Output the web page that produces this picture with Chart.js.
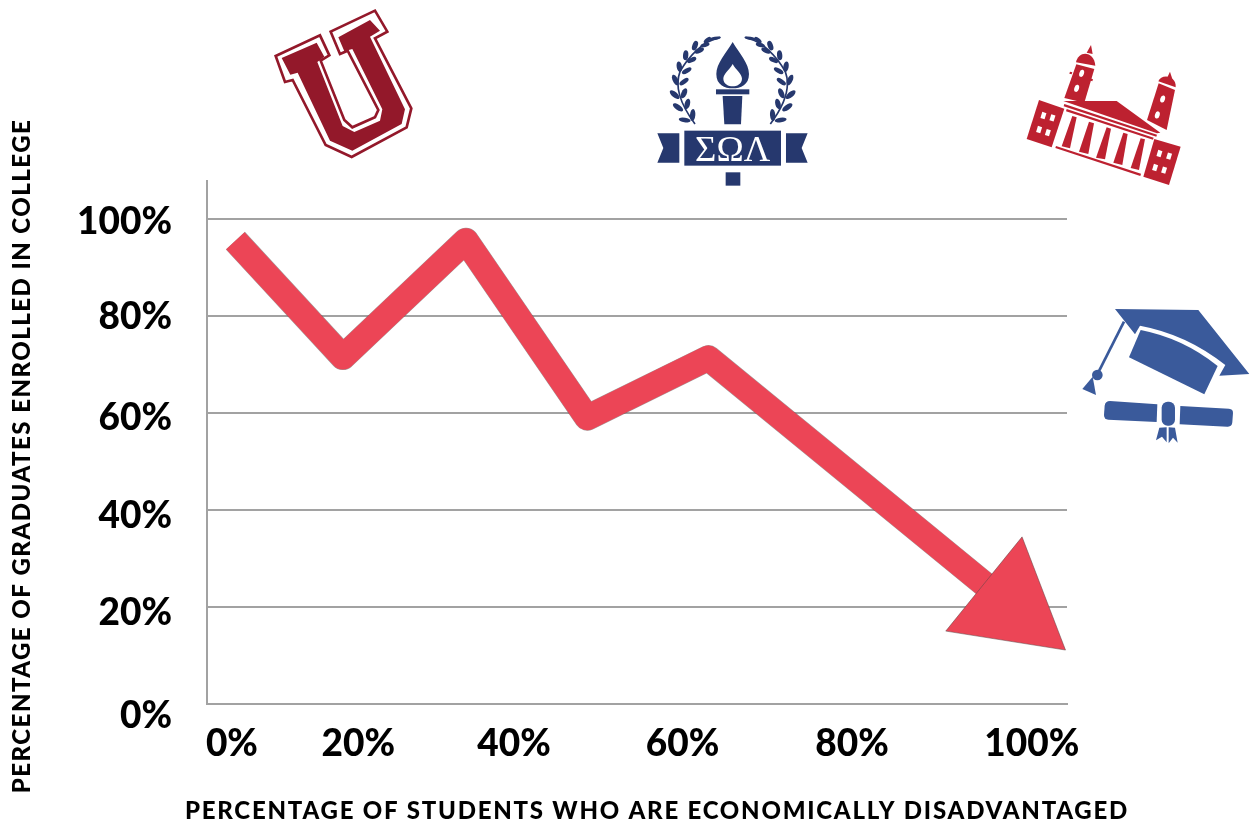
<!DOCTYPE html>
<html>
<head>
<meta charset="utf-8">
<title>Graduates enrolled in college</title>
<script src="https://cdn.jsdelivr.net/npm/chart.js@4/dist/chart.umd.min.js"></script>
<style>
  html, body { margin: 0; background: #ffffff; }
  #wrap { position: relative; width: 1257px; height: 823px; overflow: hidden; }
  #chart { position: absolute; left: 0; top: 0; }
  #icons { position: absolute; left: 0; top: 0; pointer-events: none; }
</style>
</head>
<body>
<div id="wrap">
  <canvas id="chart" width="1257" height="823"></canvas>

  <!-- decorative icons, each group uses the coordinates of its own 3x crop -->
  <svg id="icons" width="1257" height="823" viewBox="0 0 1257 823">
    <!-- varsity U -->
    <g transform="translate(275,30) scale(0.3333)">
      <polygon fill="#ffffff" stroke="#93182a" stroke-width="8" stroke-linejoin="miter"
        points="2,78 135,16 163,76 137,92 208,270 232,292 300,262 310,240 218,62 195,72 167,5 300,-58 337,5 300,25 409,235 395,292 230,381 152,345 53,150 30,156"/>
      <polygon fill="#93182a"
        points="20,84 125,38 148,80 127,96 203,288 238,306 315,272 322,238 232,57 208,64 190,22 285,-30 315,2 285,20 390,238 380,282 232,362 165,332 68,128 46,134"/>
    </g>

    <!-- torch and banner -->
    <g transform="translate(640,30) scale(0.3333)" fill="#26386e">
      <path d="M278,36 C298,70 327,100 327,132 C327,165 302,175 278,175 C254,175 229,165 229,132 C229,100 258,70 278,36 Z"/>
      <path fill="#ffffff" d="M278,102 C288,120 306,132 306,146 C306,162 290,169 278,169 C266,169 250,162 250,146 C250,132 268,120 278,102 Z"/>
      <rect x="228" y="178" width="100" height="15"/>
      <polygon points="248,198 307,198 303,283 253,283"/>
      <rect x="133" y="302" width="290" height="105"/>
      <polygon points="52,310 118,310 118,398 52,398 70,354"/>
      <polygon points="438,310 503,310 485,354 503,398 438,398"/>
      <rect x="257" y="427" width="44" height="40"/>
      <text x="278" y="392" text-anchor="middle" fill="#ffffff" font-family="Liberation Serif" font-size="110">ΣΩΛ</text>
    </g>

    <!-- laurel, the right side is the left one mirrored -->
    <g transform="translate(660,30) scale(0.3333)" fill="#26386e">
      <g id="laurel">
        <path fill="none" stroke="#26386e" stroke-width="5" d="M180,22 C130,32 85,80 60,125 C45,165 55,215 105,282"/>
        <ellipse cx="165" cy="25" rx="18" ry="5" transform="rotate(-10 165 25)"/>
        <ellipse cx="142" cy="30" rx="13" ry="6" transform="rotate(-40 142 30)"/>
        <ellipse cx="135" cy="45" rx="14" ry="6" transform="rotate(-15 135 45)"/>
        <ellipse cx="105" cy="47" rx="8" ry="15" transform="rotate(20 105 47)"/>
        <ellipse cx="118" cy="62" rx="15" ry="7" transform="rotate(-25 118 62)"/>
        <ellipse cx="77" cy="76" rx="8" ry="15" transform="rotate(5 77 76)"/>
        <ellipse cx="95" cy="90" rx="15" ry="7" transform="rotate(-25 95 90)"/>
        <ellipse cx="58" cy="110" rx="8" ry="16" transform="rotate(-10 58 110)"/>
        <ellipse cx="80" cy="122" rx="16" ry="7" transform="rotate(-30 80 122)"/>
        <ellipse cx="46" cy="150" rx="8" ry="17" transform="rotate(-25 46 150)"/>
        <ellipse cx="72" cy="155" rx="16" ry="7" transform="rotate(-35 72 155)"/>
        <ellipse cx="44" cy="194" rx="18" ry="8" transform="rotate(40 44 194)"/>
        <ellipse cx="72" cy="190" rx="8" ry="16" transform="rotate(25 72 190)"/>
        <ellipse cx="54" cy="232" rx="18" ry="8" transform="rotate(35 54 232)"/>
        <ellipse cx="82" cy="222" rx="8" ry="16" transform="rotate(15 82 222)"/>
        <ellipse cx="74" cy="270" rx="18" ry="7" transform="rotate(10 74 270)"/>
        <ellipse cx="98" cy="255" rx="8" ry="18" transform="rotate(5 98 255)"/>
      </g>
      <use href="#laurel" transform="translate(436,0) scale(-1,1)"/>
    </g>

    <!-- college building -->
    <g transform="translate(1015,30) scale(0.3333)" fill="#bd2130">
      <polygon points="228,45 233,72 215,68"/>
      <path d="M183,97 C190,60 238,62 241,107 Z"/>
      <polygon points="184,103 238,117 208,218 148,204"/>
      <polygon points="165,125 172,127 170,133 163,131"/>
      <polygon points="225,145 234,148 232,154 223,151"/>
      <ellipse cx="200" cy="130" rx="7" ry="11" transform="rotate(17 200 130)" fill="#ffffff"/>
      <ellipse cx="185" cy="175" rx="7" ry="11" transform="rotate(17 185 175)" fill="#ffffff"/>
      <polygon points="465,125 473,150 455,146"/>
      <path d="M430,154 C438,130 485,135 482,172 Z"/>
      <polygon points="431,160 480,180 455,300 396,270"/>
      <ellipse cx="443" cy="207" rx="7" ry="11" transform="rotate(17 443 207)" fill="#ffffff"/>
      <ellipse cx="427" cy="255" rx="7" ry="11" transform="rotate(17 427 255)" fill="#ffffff"/>
      <polygon points="145,213 305,213 436,308 426,310"/>
      <polygon points="148,222 426,314 424,320 146,229"/>
      <polygon points="155,237 416,323 414,329 153,244"/>
      <polygon points="172,258 185,262 165,355 140,349"/>
      <polygon points="222,275 237,280 220,372 192,365"/>
      <polygon points="275,292 288,296 270,388 243,383"/>
      <polygon points="325,308 338,312 322,405 295,398"/>
      <polygon points="377,325 390,328 372,420 347,414"/>
      <polygon points="123,348 378,431 376,438 121,354"/>
      <polygon points="72,210 148,236 110,352 35,327"/>
      <polygon points="418,327 497,350 462,465 385,440"/>
      <g fill="#ffffff">
        <rect x="79" y="247" width="13" height="19" transform="rotate(17 85 256)"/>
        <rect x="106" y="254" width="13" height="19" transform="rotate(17 112 263)"/>
        <rect x="66" y="289" width="13" height="19" transform="rotate(17 72 298)"/>
        <rect x="92" y="298" width="13" height="19" transform="rotate(17 98 308)"/>
        <rect x="427" y="361" width="13" height="19" transform="rotate(17 433 370)"/>
        <rect x="456" y="369" width="13" height="19" transform="rotate(17 462 378)"/>
        <rect x="414" y="403" width="13" height="19" transform="rotate(17 420 412)"/>
        <rect x="441" y="411" width="13" height="19" transform="rotate(17 447 420)"/>
      </g>
    </g>

    <!-- cap and diploma -->
    <g transform="translate(1070,295) scale(0.3333)" fill="#3a5a9b">
      <path d="M135,42 L385,45 L538,237 L448,242 L466,210 Q350,118 210,92 L195,118 Z"/>
      <path d="M212,105 Q340,130 443,213 L403,298 L177,187 Z"/>
      <line x1="162" y1="80" x2="85" y2="232" stroke="#3a5a9b" stroke-width="8"/>
      <circle cx="82" cy="240" r="16"/>
      <polygon points="68,245 37,282 78,300"/>
      <path d="M120,318 L262,328 L260,381 L115,374 Q102,372 102,360 L104,332 Q106,318 120,318 Z"/>
      <path d="M331,333 L477,341 Q490,342 489,355 L487,382 Q486,396 472,395 L329,388 Z"/>
      <rect x="275" y="320" width="40" height="72" rx="18"/>
      <polygon points="268,398 290,397 290,442 276,425 258,436"/>
      <polygon points="296,397 315,398 323,443 309,428 296,445"/>
    </g>
  </svg>
</div>

<script>
// Datos
const xValues = [3.3, 15.8, 30.1, 44.2, 58.3, 93.5];
const yValues = [95.5, 71.5, 95.5, 59, 71.3, 20.2];
const tickValues = [0, 20, 40, 60, 80, 100];
const xTickLabels = ['0%', '20%', '40%', '60%', '80%', '100%'];
const yTickLabels = ['0%', '20%', '40%', '60%', '80%', '100%'];
const xTitle = 'PERCENTAGE OF STUDENTS WHO ARE ECONOMICALLY DISADVANTAGED';
const yTitle = 'PERCENTAGE OF GRADUATES ENROLLED IN COLLEGE';

// In the original the tick labels do not sit on their ticks, so they are shifted (axis units)
const xLabelShift = [2.9, -2.4, -4.3, -4.7, -5, -4.1];
const yLabelShift = [-2.5, -1.2, -1.2, -1, -0.2, -0.7];

const RED = '#ec4556';
const GREY = '#a2a2a2';
const FONT = 'Lato, sans-serif';

const points = xValues.map((x, i) => ({ x: x, y: yValues[i] }));

// Axis titles are off-centre from the plot, so they are drawn here
const axisTitles = {
  id: 'axisTitles',
  afterDraw(chart) {
    const ctx = chart.ctx;
    ctx.save();
    ctx.fillStyle = '#000000';
    ctx.font = '900 24px ' + FONT;
    ctx.textAlign = 'center';
    ctx.textBaseline = 'middle';
    ctx.letterSpacing = '1.77px';
    ctx.fillText(xTitle, 657, 811);
    ctx.letterSpacing = '1.48px';
    ctx.translate(22, 456);
    ctx.rotate(-Math.PI / 2);
    ctx.fillText(yTitle, 0, 0);
    ctx.restore();
  }
};

new Chart(document.getElementById('chart'), {
  type: 'scatter',
  data: {
    datasets: [
      {
        // arrow head
        data: points.slice(-1),
        order: 0,
        showLine: false,
        clip: false,
        pointStyle: 'triangle',
        pointRadius: 70,
        pointRotation: 129,
        pointBackgroundColor: RED,
        pointBorderColor: 'rgba(90,70,70,0.5)',
        pointBorderWidth: 1
      },
      {
        data: points,
        order: 1,
        showLine: true,
        clip: false,
        borderColor: RED,
        borderWidth: 25,
        borderJoinStyle: 'round',
        borderCapStyle: 'butt',
        tension: 0,
        pointRadius: 0
      },
      {
        // thin dark edge under the line
        data: points,
        order: 2,
        showLine: true,
        clip: false,
        borderColor: 'rgba(90,70,70,0.55)',
        borderWidth: 26,
        borderJoinStyle: 'round',
        borderCapStyle: 'butt',
        tension: 0,
        pointRadius: 0
      }
    ]
  },
  options: {
    responsive: false,
    animation: false,
    layout: { padding: { top: 181, right: 190, left: 0, bottom: 0 } },
    plugins: { legend: { display: false }, tooltip: { enabled: false } },
    scales: {
      x: {
        type: 'linear',
        min: 0,
        max: 100,
        afterBuildTicks(scale) {
          scale.ticks = tickValues.map((v, i) => ({ value: v + xLabelShift[i] }));
        },
        afterFit(scale) { scale.height = 119; },
        grid: { display: false },
        border: { color: GREY, width: 2 },
        ticks: {
          autoSkip: false,
          maxRotation: 0,
          padding: 10,
          color: '#000000',
          font: { family: FONT, size: 37, weight: '900' },
          callback: (value, index) => xTickLabels[index]
        }
      },
      y: {
        type: 'linear',
        min: 0,
        max: 107.8,
        afterBuildTicks(scale) {
          scale.ticks = tickValues.map(v => ({ value: v }));
        },
        afterFit(scale) { scale.width = 0; },
        grid: { color: GREY, lineWidth: 2, drawTicks: false },
        border: { color: GREY, width: 2 },
        ticks: { display: false }
      },
      // second axis only carries the shifted tick labels
      yLabels: {
        type: 'linear',
        position: 'left',
        weight: 1,
        min: 0,
        max: 107.8,
        afterBuildTicks(scale) {
          scale.ticks = tickValues.map((v, i) => ({ value: v + yLabelShift[i] }));
        },
        afterFit(scale) { scale.width = 207; },
        grid: { display: false, drawTicks: false },
        border: { display: false },
        ticks: {
          autoSkip: false,
          padding: 35,
          color: '#000000',
          font: { family: FONT, size: 37, weight: '900' },
          callback: (value, index) => yTickLabels[index]
        }
      }
    }
  },
  plugins: [axisTitles]
});
</script>
</body>
</html>
